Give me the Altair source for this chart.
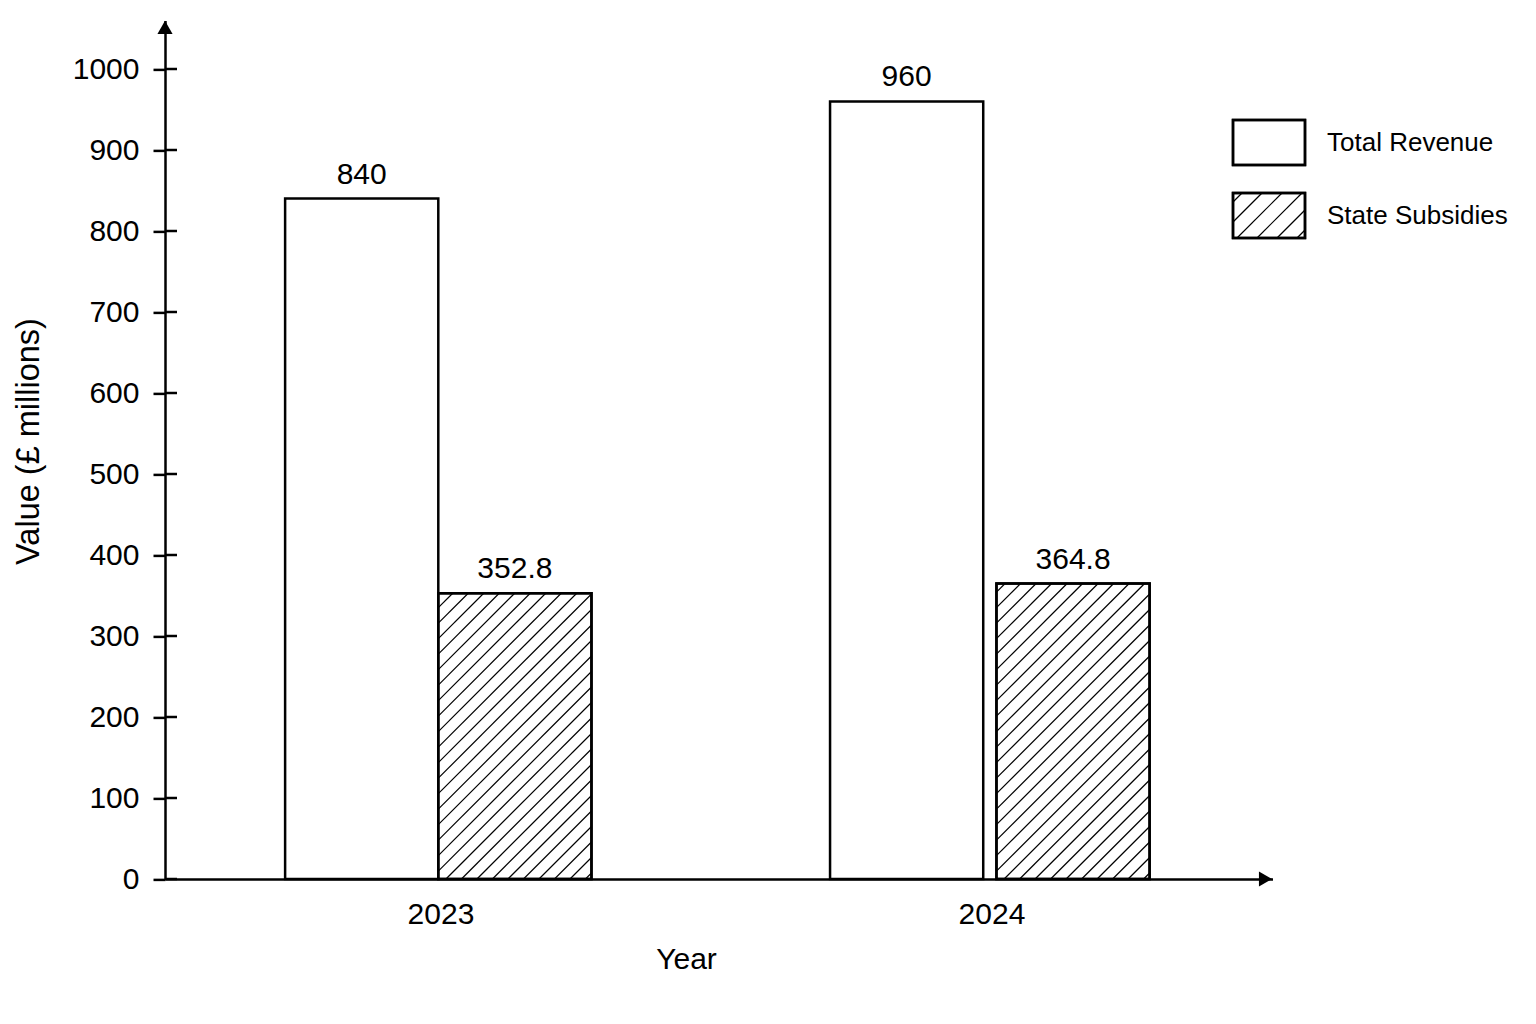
import altair as alt
import pandas as pd

# ---------------- data ----------------
years = [2023, 2024]
total_revenue = [840, 960]
state_subsidies = [352.8, 364.8]
series_names = ["Total Revenue", "State Subsidies"]
y_ticks = [0, 100, 200, 300, 400, 500, 600, 700, 800, 900, 1000]
x_title = "Year"
y_title = "Value (£ millions)"

# ---------------- layout ----------------
FONT = "Liberation Sans"
X_MIN, X_MAX = 2022.5, 2024.51
Y_MIN, Y_MAX = 0, 1060
W = 1107.5
H = 858.6
PXY = W / (X_MAX - X_MIN)   # px per year
PXV = H / (Y_MAX - Y_MIN)   # px per value unit
BAR_W = 0.278               # bar width in year units
GAPS = [0.0, 0.024]         # gap between the pair of bars, per year (year units)
SHIFT = [-0.004, -0.003]    # small shift of each pair (year units)
HATCH_SP = 15.5             # hatch spacing in px

# bars
rows = []
for yr, tr, ss, g, s in zip(years, total_revenue, state_subsidies, GAPS, SHIFT):
    c = yr + s
    rows.append(dict(series=series_names[0], x0=c - g / 2 - BAR_W, x1=c - g / 2,
                     xm=c - g / 2 - BAR_W / 2, value=tr, label=f"{tr:g}"))
    rows.append(dict(series=series_names[1], x0=c + g / 2, x1=c + g / 2 + BAR_W,
                     xm=c + g / 2 + BAR_W / 2, value=ss, label=f"{ss:g}"))
bars_df = pd.DataFrame(rows)

# hatch segments for subsidy bars (45 degrees in pixel space)
hatch = []
for _, b in bars_df[bars_df.series == series_names[1]].iterrows():
    X0 = (b.x0 - X_MIN) * PXY
    X1 = (b.x1 - X_MIN) * PXY
    Hp = b.value * PXV
    c = X1 - 6
    while c > X0 - Hp:
        t0 = max(0.0, X0 - c)
        t1 = min(Hp, X1 - c)
        if t1 > t0:
            hatch.append(dict(x=X_MIN + (c + t0) / PXY, y=t0 / PXV,
                              x2=X_MIN + (c + t1) / PXY, y2=t1 / PXV))
        c -= HATCH_SP
hatch_df = pd.DataFrame(hatch)

# legend (pixel coordinates relative to plot origin)
LX0, LX1 = 1068, 1140
leg_boxes = pd.DataFrame([
    dict(series=series_names[0], x=LX0, x2=LX1, y=99.6, y2=144.6, tx=1162, ty=122.6),
    dict(series=series_names[1], x=LX0, x2=LX1, y=172.6, y2=217.6, tx=1162, ty=195.6),
])
leg_hatch = []
yt, yb = 172.6, 217.6
Hp = yb - yt
c = LX1 - 8
while c > LX0 - Hp:
    t0 = max(0.0, LX0 - c)
    t1 = min(Hp, LX1 - c)
    if t1 > t0:
        leg_hatch.append(dict(x=c + t0, y=yb - t0, x2=c + t1, y2=yb - t1))
    c -= 20
leg_hatch_df = pd.DataFrame(leg_hatch)

# ---------------- chart ----------------
xscale = alt.Scale(domain=[X_MIN, X_MAX], nice=False, zero=False)
yscale = alt.Scale(domain=[Y_MIN, Y_MAX], nice=False)

x_axis = alt.Axis(values=years, format="d", tickSize=0, labelPadding=20, labelFontSize=30,
                  title=x_title, titleFontSize=30, titleX=521, titleY=89,
                  titleBaseline="alphabetic", titleAlign="center", domainWidth=2.5,
                  labelFlush=False, grid=False)
y_axis = alt.Axis(values=y_ticks, format="d", tickSize=12, tickWidth=2.5, domainWidth=2.5,
                  labelPadding=14, labelFontSize=30, title=y_title, titleFontSize=32.5,
                  titleX=-127, titleY=420.6, titleBaseline="alphabetic", titleAlign="center",
                  titleAngle=270, grid=False)

base = alt.Chart(bars_df)

bars = base.mark_rect(fill="white", stroke="black", strokeWidth=2.5).encode(
    x=alt.X("x0:Q", scale=xscale, axis=x_axis),
    x2="x1:Q",
    y=alt.Y("value:Q", scale=yscale, axis=y_axis),
    y2=alt.datum(0),
)

hatch_layer = alt.Chart(hatch_df).mark_rule(color="black", strokeWidth=1.2).encode(
    x=alt.X("x:Q", scale=xscale), x2="x2:Q",
    y=alt.Y("y:Q", scale=yscale), y2="y2:Q",
)

outline = base.transform_filter(alt.datum.series == series_names[1]).mark_rect(
    fillOpacity=0, stroke="black", strokeWidth=2.5).encode(
    x=alt.X("x0:Q", scale=xscale), x2="x1:Q",
    y=alt.Y("value:Q", scale=yscale), y2=alt.datum(0),
)

labels = base.mark_text(fontSize=30, font=FONT, baseline="alphabetic", dy=-15,
                        color="black").encode(
    x=alt.X("xm:Q", scale=xscale),
    y=alt.Y("value:Q", scale=yscale),
    text="label:N",
)

inner_ticks = alt.Chart(pd.DataFrame({"v": y_ticks})).mark_rule(
    color="black", strokeWidth=2.5).encode(
    y=alt.Y("v:Q", scale=yscale), x=alt.value(0), x2=alt.value(12),
)

one = pd.DataFrame({"a": [0]})
arrow_up = alt.Chart(one).mark_point(shape="triangle-up", filled=True, color="black",
                                     size=230, opacity=1).encode(
    x=alt.value(0), y=alt.value(7))
arrow_right = alt.Chart(one).mark_point(shape="triangle-right", filled=True, color="black",
                                        size=230, opacity=1).encode(
    x=alt.value(W - 7), y=alt.value(H))

leg_rect = alt.Chart(leg_boxes).mark_rect(fill="white", stroke="black", strokeWidth=2.5).encode(
    x=alt.X("x:Q", scale=None), x2="x2:Q",
    y=alt.Y("y:Q", scale=None), y2="y2:Q",
)
leg_h = alt.Chart(leg_hatch_df).mark_rule(color="black", strokeWidth=1.2).encode(
    x=alt.X("x:Q", scale=None), x2="x2:Q",
    y=alt.Y("y:Q", scale=None), y2="y2:Q",
)
leg_outline = alt.Chart(leg_boxes).mark_rect(fillOpacity=0, stroke="black", strokeWidth=2.5).encode(
    x=alt.X("x:Q", scale=None), x2="x2:Q",
    y=alt.Y("y:Q", scale=None), y2="y2:Q",
)
leg_text = alt.Chart(leg_boxes).mark_text(fontSize=26, font=FONT, align="left",
                                          baseline="middle", color="black").encode(
    x=alt.X("tx:Q", scale=None),
    y=alt.Y("ty:Q", scale=None),
    text="series:N",
)

chart = alt.layer(
    bars, hatch_layer, outline, labels, inner_ticks, arrow_up, arrow_right,
    leg_rect, leg_h, leg_outline, leg_text,
).properties(
    width=W, height=H,
    padding={"left": 157, "top": 12.4, "right": 255, "bottom": 120},
    autosize=alt.AutoSizeParams(type="none"),
    background="white",
).configure_view(
    stroke="transparent",
).configure_axis(
    labelFont=FONT, titleFont=FONT, labelColor="black", titleColor="black",
    domainColor="black", tickColor="black", titleFontWeight="normal",
)

chart.save("out.html", embed_options={"renderer": "svg", "actions": False})
